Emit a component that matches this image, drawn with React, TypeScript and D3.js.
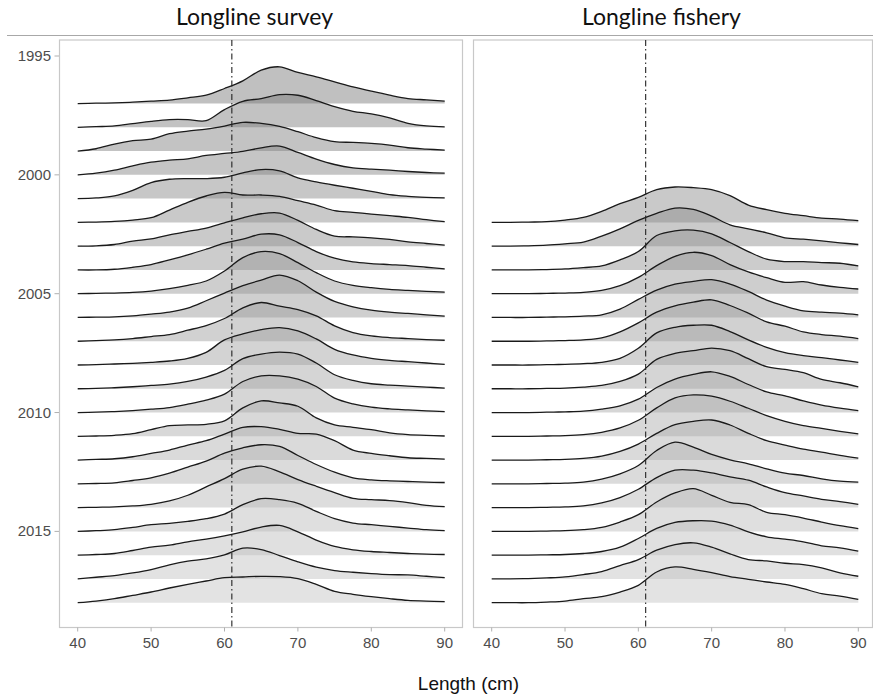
import React from "react";
import * as d3 from "d3";

// Length grid (cm) at which the density curves were read
const lengths = [40, 42.5, 45, 47.5, 50, 52.5, 55, 57.5, 60, 62.5, 65, 67.5, 70, 72.5, 75, 77.5, 80, 82.5, 85, 87.5, 90];

const xTicks = [40, 50, 60, 70, 80, 90];
const yTicks = [1995, 2000, 2005, 2010, 2015];
const refLength = 61;

const surveyYears = [1997, 1998, 1999, 2000, 2001, 2002, 2003, 2004, 2005, 2006, 2007, 2008, 2009, 2010, 2011, 2012, 2013, 2014, 2015, 2016, 2017, 2018];
const surveyDensity = [
  [0, 1, 2, 4, 7, 10, 17, 25, 45, 68, 100, 110, 93, 80, 65, 50, 37, 25, 15, 11, 7],
  [0, 2, 4, 11, 18, 23, 23, 20, 53, 78, 86, 98, 96, 80, 62, 48, 40, 28, 12, 4, 1],
  [0, 7, 21, 31, 36, 52, 60, 66, 75, 86, 83, 74, 58, 40, 28, 26, 23, 18, 10, 6, 3],
  [0, 5, 14, 27, 38, 44, 48, 58, 64, 70, 81, 86, 67, 47, 31, 21, 17, 14, 10, 7, 5],
  [0, 2, 8, 25, 48, 58, 60, 60, 64, 77, 87, 83, 62, 50, 40, 31, 22, 12, 7, 4, 2],
  [0, 1, 3, 7, 14, 37, 60, 79, 90, 82, 82, 78, 65, 52, 35, 30, 25, 20, 15, 8, 2],
  [0, 1, 5, 15, 22, 34, 44, 54, 70, 85, 97, 99, 77, 50, 30, 28, 25, 20, 13, 8, 3],
  [0, 0, 2, 8, 16, 30, 45, 62, 80, 92, 107, 105, 82, 55, 35, 24, 19, 16, 13, 8, 3],
  [0, 1, 2, 4, 8, 15, 25, 38, 68, 108, 126, 120, 93, 63, 38, 25, 18, 13, 10, 7, 5],
  [0, 1, 2, 5, 10, 16, 28, 50, 73, 95, 112, 127, 110, 76, 48, 32, 22, 16, 12, 8, 4],
  [0, 2, 4, 8, 14, 20, 33, 47, 68, 100, 116, 105, 95, 76, 46, 26, 16, 11, 8, 5, 3],
  [0, 1, 3, 5, 8, 12, 20, 38, 75, 93, 106, 112, 102, 78, 47, 30, 20, 14, 10, 6, 2],
  [0, 1, 3, 6, 10, 14, 22, 35, 55, 90, 104, 110, 104, 77, 42, 25, 15, 11, 8, 5, 2],
  [0, 1, 3, 6, 10, 15, 25, 37, 55, 93, 110, 110, 100, 78, 43, 26, 16, 11, 8, 5, 3],
  [0, 1, 3, 8, 20, 32, 34, 36, 46, 85, 106, 100, 90, 55, 34, 27, 20, 10, 5, 3, 1],
  [0, 2, 4, 10, 20, 30, 45, 58, 78, 98, 100, 92, 80, 78, 58, 30, 20, 13, 7, 5, 3],
  [0, 1, 3, 10, 18, 32, 50, 68, 92, 108, 117, 112, 85, 58, 35, 18, 12, 9, 7, 5, 4],
  [0, 1, 2, 5, 10, 20, 37, 62, 87, 115, 124, 107, 84, 64, 45, 28, 24, 21, 15, 7, 3],
  [0, 2, 5, 12, 20, 24, 30, 38, 52, 80, 98, 95, 84, 60, 38, 25, 20, 15, 10, 5, 2],
  [0, 2, 5, 14, 24, 30, 40, 48, 58, 70, 84, 89, 70, 45, 26, 16, 11, 8, 5, 3, 2],
  [0, 5, 10, 18, 28, 42, 53, 60, 72, 92, 88, 70, 51, 35, 25, 20, 16, 13, 12, 8, 4],
  [0, 5, 12, 22, 32, 44, 55, 65, 75, 77, 79, 78, 72, 55, 34, 25, 18, 12, 7, 5, 3],
];

const fisheryYears = [2002, 2003, 2004, 2005, 2006, 2007, 2008, 2009, 2010, 2011, 2012, 2013, 2014, 2015, 2016, 2017, 2018];
const fisheryDensity = [
  [0, 0, 1, 2, 7, 15, 33, 56, 75, 98, 106, 104, 98, 80, 52, 38, 27, 20, 13, 10, 5],
  [0, 0, 1, 3, 7, 12, 30, 52, 77, 98, 114, 110, 90, 64, 52, 40, 25, 21, 16, 10, 5],
  [0, 0, 0, 1, 3, 7, 12, 30, 55, 103, 117, 119, 108, 82, 55, 32, 25, 25, 22, 20, 12],
  [0, 0, 0, 1, 2, 4, 10, 24, 49, 84, 112, 124, 114, 87, 65, 48, 34, 36, 26, 19, 14],
  [0, 0, 0, 1, 2, 4, 8, 25, 54, 82, 100, 108, 113, 100, 78, 52, 34, 20, 16, 13, 8],
  [0, 0, 0, 1, 2, 4, 10, 28, 55, 87, 106, 117, 124, 107, 84, 58, 45, 28, 20, 15, 8],
  [0, 0, 0, 1, 2, 4, 8, 20, 50, 96, 113, 119, 119, 100, 75, 53, 37, 28, 22, 15, 8],
  [0, 0, 0, 1, 2, 5, 10, 22, 44, 88, 106, 114, 122, 114, 90, 66, 58, 48, 28, 18, 6],
  [0, 0, 0, 1, 2, 4, 10, 20, 40, 75, 100, 114, 122, 108, 84, 62, 50, 35, 22, 13, 6],
  [0, 0, 0, 1, 2, 5, 12, 25, 48, 85, 115, 124, 120, 105, 84, 62, 45, 32, 24, 15, 7],
  [0, 0, 0, 1, 2, 5, 12, 26, 48, 80, 106, 116, 120, 105, 80, 58, 45, 33, 24, 14, 6],
  [0, 0, 0, 1, 2, 5, 14, 30, 55, 100, 125, 110, 88, 72, 60, 45, 32, 25, 15, 8, 5],
  [0, 0, 0, 1, 2, 5, 14, 30, 55, 90, 112, 112, 104, 92, 82, 62, 45, 35, 25, 18, 10],
  [0, 0, 0, 1, 2, 5, 12, 28, 50, 88, 115, 128, 108, 87, 80, 57, 50, 40, 28, 17, 8],
  [0, 0, 0, 1, 2, 5, 11, 24, 50, 80, 98, 103, 102, 90, 70, 55, 48, 40, 28, 22, 12],
  [0, 0, 1, 3, 6, 13, 22, 40, 58, 86, 103, 108, 95, 75, 58, 54, 47, 43, 33, 18, 8],
  [0, 0, 0, 2, 5, 12, 18, 32, 52, 92, 107, 100, 90, 78, 70, 62, 55, 42, 27, 20, 10],
];

const W = 873;
const H = 698;
const panelTop = 40;
const panelBottom = 627.5;
const leftPanel = { x0: 59.5, x1: 462.5, r0: 77.7, r1: 444.7 };
const rightPanel = { x0: 473.5, x1: 872.5, r0: 491.7, r1: 858.3 };

const yScale = d3.scaleLinear().domain([1995, 2018]).range([56, 602.7]);
const hScale = d3.scaleLinear().domain([0, 100]).range([0, 33.4]);
const fillScale = d3.scaleLinear<string>().domain([1997, 2018]).range(["#747474", "#c2c2c2"]);

const tickFont = "'Liberation Sans', Arial, sans-serif";
const titleFont = "Lato, 'Open Sans', sans-serif";

function Panel({ panel, years, density, title }: any) {
  const xScale = d3.scaleLinear().domain([40, 90]).range([panel.r0, panel.r1]);
  const ridges = years.map((yr: number, k: number) => {
    const base = yScale(yr);
    const pts = density[k].map((v: number, i: number) => [lengths[i], v] as [number, number]);
    const area = d3
      .area<[number, number]>()
      .x((d) => xScale(d[0]))
      .y0(base)
      .y1((d) => base - hScale(d[1]))
      .curve(d3.curveCatmullRom.alpha(0.5));
    const line = d3
      .line<[number, number]>()
      .x((d) => xScale(d[0]))
      .y((d) => base - hScale(d[1]))
      .curve(d3.curveCatmullRom.alpha(0.5));
    return (
      <g key={yr}>
        <path d={area(pts) || ""} fill={fillScale(yr)} fillOpacity={0.45} stroke="none" />
        <path d={line(pts) || ""} fill="none" stroke="#1a1a1a" strokeWidth={1.3} />
      </g>
    );
  });
  return (
    <g>
      <rect x={panel.x0} y={panelTop} width={panel.x1 - panel.x0} height={panelBottom - panelTop} fill="white" stroke="#c8c8c8" strokeWidth={1.2} />
      {ridges}
      <line x1={xScale(refLength)} x2={xScale(refLength)} y1={panelTop} y2={panelBottom} stroke="#222" strokeWidth={1.1} strokeDasharray="6 3 1.5 3" />
      {xTicks.map((t) => (
        <g key={t}>
          <line x1={xScale(t)} x2={xScale(t)} y1={panelBottom} y2={panelBottom + 4} stroke="#b0b0b0" strokeWidth={1} />
          <text x={xScale(t)} y={648} textAnchor="middle" fontFamily={tickFont} fontSize={15} fill="#4d4d4d">
            {t}
          </text>
        </g>
      ))}
      <text x={title.x} y={25} textAnchor="middle" fontFamily={titleFont} fontSize={23} fill="#111">
        {title.text}
      </text>
    </g>
  );
}

export default function App() {
  return (
    <svg width={W} height={H} style={{ position: "absolute", left: 0, top: 0, background: "white" }}>
      <rect x={0} y={0} width={W} height={H} fill="white" />
      <line x1={7} x2={W} y1={35.5} y2={35.5} stroke="#a8a8a8" strokeWidth={1.2} />
      <Panel panel={leftPanel} years={surveyYears} density={surveyDensity} title={{ text: "Longline survey", x: 254.5 }} />
      <Panel panel={rightPanel} years={fisheryYears} density={fisheryDensity} title={{ text: "Longline fishery", x: 661.5 }} />
      {yTicks.map((t) => (
        <g key={t}>
          <line x1={54.5} x2={59} y1={yScale(t)} y2={yScale(t)} stroke="#b0b0b0" strokeWidth={1} />
          <text x={51} y={yScale(t) + 5} textAnchor="end" fontFamily={tickFont} fontSize={15} fill="#4d4d4d">
            {t}
          </text>
        </g>
      ))}
      <text x={468.5} y={690} textAnchor="middle" fontFamily={tickFont} fontSize={19} fill="#111">
        Length (cm)
      </text>
    </svg>
  );
}
